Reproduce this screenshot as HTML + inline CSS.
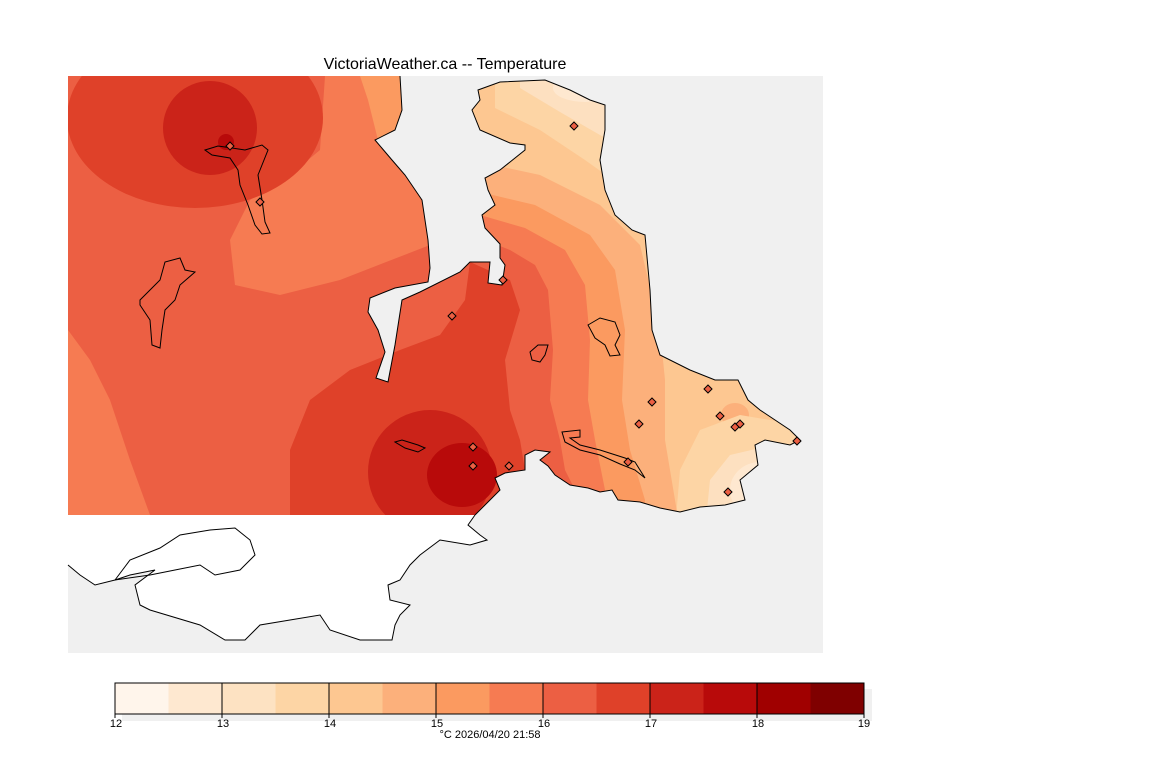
<!DOCTYPE html>
<html><head><meta charset="utf-8"><style>
body{margin:0;background:#fff;width:1152px;height:768px;overflow:hidden}
svg{display:block}
text{font-family:"Liberation Sans",sans-serif}
</style></head><body>
<svg width="1152" height="768" viewBox="0 0 1152 768" xmlns="http://www.w3.org/2000/svg">
<defs>
<clipPath id="land"><path d="M68,76 L400,76 L402,110 L395,130 L375,140 L392,160 L405,175 L422,200 L428,240 L430,268 L428,282 L395,288 L370,298 L368,312 L378,330 L385,352 L376,378 L388,382 L395,345 L402,300 L420,292 L460,272 L470,262 L490,262 L488,283 L502,285 L505,265 L500,258 L500,244 L485,228 L482,215 L495,205 L488,190 L485,178 L500,170 L525,150 L525,145 L510,143 L480,130 L472,110 L480,100 L478,90 L500,82 L545,80 L570,90 L590,100 L605,105 L605,130 L600,160 L605,190 L615,215 L632,230 L645,235 L650,290 L652,330 L660,355 L690,370 L715,380 L738,380 L748,400 L760,410 L790,430 L800,440 L790,445 L765,440 L755,445 L758,465 L740,480 L745,500 L725,505 L700,507 L680,512 L660,508 L640,502 L618,500 L612,490 L600,492 L588,488 L570,485 L555,475 L548,466 L540,460 L550,452 L535,450 L525,455 L525,470 L505,473 L495,478 L500,490 L485,505 L475,515 L68,515 Z"/></clipPath>
</defs>
<rect x="68" y="76" width="755" height="577" fill="#f0f0f0"/>
<path d="M68,515 L475,515 L468,525 L480,535 L487,540 L470,545 L440,540 L420,555 L410,565 L400,580 L388,585 L390,600 L410,605 L400,615 L395,625 L392,640 L385,640 L360,640 L330,630 L320,615 L290,620 L260,625 L245,640 L225,640 L200,625 L150,610 L140,605 L135,585 L155,570 L130,575 L115,580 L95,585 L80,575 L68,565 Z" fill="#fff"/>
<path d="M475,515 L468,525 L480,535 L487,540 L470,545 L440,540 L420,555 L410,565 L400,580 L388,585 L390,600 L410,605 L400,615 L395,625 L392,640 L385,640 L360,640 L330,630 L320,615 L290,620 L260,625 L245,640 L225,640 L200,625 L150,610 L140,605 L135,585 L155,570 L130,575 L115,580 L95,585 L80,575 L68,565" fill="none" stroke="#000" stroke-width="1"/>
<path d="M115,580 L130,560 L160,548 L180,535 L210,530 L235,528 L250,540 L255,555 L240,570 L215,575 L200,565 L175,570 L150,575 Z" fill="none" stroke="#000" stroke-width="1"/>
<g clip-path="url(#land)">
<rect x="68" y="76" width="760" height="440" fill="#ec5f43"/>
<path d="M230,76 L430,76 L430,245 L340,280 L280,295 L235,285 L230,240 L250,200 L290,175 L320,150 L325,76 Z" fill="#f67b52"/>
<ellipse cx="195" cy="118" rx="128" ry="90" fill="#df4129"/>
<circle cx="210" cy="128" r="47" fill="#cb2319"/>
<circle cx="226" cy="142" r="8" fill="#b80a0a"/>
<path d="M360,76 L410,76 L410,140 L378,140 L368,100 Z" fill="#fb9a60"/>
<path d="M68,330 L90,360 L110,400 L130,460 L150,515 L68,515 Z" fill="#f67b52"/>
<path d="M290,515 L290,450 L310,400 L350,370 L400,350 L440,335 L465,300 L470,262 L510,280 L520,310 L505,360 L510,410 L520,440 L525,470 L500,515 Z" fill="#df4129"/>
<circle cx="430" cy="472" r="62" fill="#cb2319"/>
<ellipse cx="462" cy="475" rx="35" ry="32" fill="#b80a0a"/>
<path d="M480,238 L510,250 L535,265 L548,290 L553,350 L550,400 L560,440 L565,470 L575,490 L575,530 L900,530 L900,60 L480,60 Z" fill="#f67b52"/>
<path d="M480,215 L525,228 L565,250 L585,285 L590,340 L588,400 L595,440 L605,490 L605,530 L900,530 L900,60 L480,60 Z" fill="#fb9a60"/>
<path d="M480,192 L535,205 L590,235 L615,270 L625,330 L622,400 L630,450 L645,500 L645,530 L900,530 L900,60 L480,60 Z" fill="#fcb07b"/>
<path d="M470,160 L540,175 L600,205 L640,245 L660,330 L665,380 L665,440 L680,530 L900,530 L900,60 L470,60 Z" fill="#fdc791"/>
<path d="M495,108 L540,130 L585,160 L620,185 L650,215 L720,230 L720,60 L495,60 Z" fill="#fdd5a5"/>
<path d="M520,88 L560,112 L600,135 L630,150 L650,60 L520,60 Z" fill="#fde0c0"/>
<ellipse cx="585" cy="88" rx="32" ry="14" fill="#fee8d0"/>
<ellipse cx="735" cy="415" rx="14" ry="12" fill="#fcb07b"/>
<path d="M675,530 L680,470 L700,430 L740,415 L800,425 L820,530 Z" fill="#fdd5a5"/>
<path d="M705,530 L710,480 L730,455 L760,448 L800,450 L800,530 Z" fill="#fde0c0"/>
<ellipse cx="760" cy="490" rx="30" ry="28" fill="#fee8d0"/>
</g>
<path d="M400,76 L402,110 L395,130 L375,140 L392,160 L405,175 L422,200 L428,240 L430,268 L428,282 L395,288 L370,298 L368,312 L378,330 L385,352 L376,378 L388,382 L395,345 L402,300 L420,292 L460,272 L470,262 L490,262 L488,283 L502,285 L505,265 L500,258 L500,244 L485,228 L482,215 L495,205 L488,190 L485,178 L500,170 L525,150 L525,145 L510,143 L480,130 L472,110 L480,100 L478,90 L500,82 L545,80 L570,90 L590,100 L605,105 L605,130 L600,160 L605,190 L615,215 L632,230 L645,235 L650,290 L652,330 L660,355 L690,370 L715,380 L738,380 L748,400 L760,410 L790,430 L800,440 L790,445 L765,440 L755,445 L758,465 L740,480 L745,500 L725,505 L700,507 L680,512 L660,508 L640,502 L618,500 L612,490 L600,492 L588,488 L570,485 L555,475 L548,466 L540,460 L550,452 L535,450 L525,455 L525,470 L505,473 L495,478 L500,490 L485,505 L475,515" fill="none" stroke="#000" stroke-width="1"/>
<g fill="none" stroke="#000" stroke-width="1">
<path d="M140,300 L150,290 L160,280 L165,262 L180,258 L185,270 L195,272 L180,285 L175,300 L165,310 L162,330 L160,348 L152,345 L150,320 L140,305 Z"/>
<path d="M205,150 L218,146 L232,148 L245,150 L262,145 L268,150 L258,175 L262,200 L265,222 L270,233 L262,234 L255,225 L248,205 L240,185 L238,170 L230,158 L212,155 Z"/>
<path d="M530,352 L538,345 L548,345 L545,355 L540,362 L532,360 Z"/>
<path d="M588,325 L600,318 L615,322 L620,335 L615,345 L620,355 L610,356 L605,345 L595,338 Z"/>
<path d="M395,442 L402,440 L418,445 L425,448 L418,452 L405,448 Z"/>
<path d="M562,432 L580,430 L580,437 L570,438 L580,445 L600,450 L625,458 L635,462 L645,478 L635,470 L620,464 L600,455 L580,450 L565,442 Z"/>
</g>
<g fill="#ec5f43" stroke="#000" stroke-width="1">
<path d="M230,142 l4,4 l-4,4 l-4,-4 z"/><path d="M260,198 l4,4 l-4,4 l-4,-4 z"/><path d="M574,122 l4,4 l-4,4 l-4,-4 z"/><path d="M503,276 l4,4 l-4,4 l-4,-4 z"/><path d="M452,312 l4,4 l-4,4 l-4,-4 z"/><path d="M473,443 l4,4 l-4,4 l-4,-4 z"/><path d="M473,462 l4,4 l-4,4 l-4,-4 z"/><path d="M509,462 l4,4 l-4,4 l-4,-4 z"/><path d="M652,398 l4,4 l-4,4 l-4,-4 z"/><path d="M639,420 l4,4 l-4,4 l-4,-4 z"/><path d="M708,385 l4,4 l-4,4 l-4,-4 z"/><path d="M720,412 l4,4 l-4,4 l-4,-4 z"/><path d="M735,423 l4,4 l-4,4 l-4,-4 z"/><path d="M740,420 l4,4 l-4,4 l-4,-4 z"/><path d="M628,458 l4,4 l-4,4 l-4,-4 z"/><path d="M728,488 l4,4 l-4,4 l-4,-4 z"/><path d="M797,437 l4,4 l-4,4 l-4,-4 z"/>
</g>
<text x="445" y="69" font-size="16" text-anchor="middle" fill="#000">VictoriaWeather.ca -- Temperature</text>
<rect x="122" y="689" width="750" height="32" fill="#f0f0f0"/>
<g stroke="none">
<rect x="115" y="683" width="53.5" height="31" fill="#fff5eb"/>
<rect x="168.5" y="683" width="53.5" height="31" fill="#fee8d0"/>
<rect x="222" y="683" width="53.5" height="31" fill="#fde2c2"/>
<rect x="275.5" y="683" width="53.5" height="31" fill="#fdd5a5"/>
<rect x="329" y="683" width="53.5" height="31" fill="#fdc791"/>
<rect x="382.5" y="683" width="53.5" height="31" fill="#fcb07b"/>
<rect x="436" y="683" width="53.5" height="31" fill="#fb9a60"/>
<rect x="489.5" y="683" width="53.5" height="31" fill="#f67b52"/>
<rect x="543" y="683" width="53.5" height="31" fill="#ec5f43"/>
<rect x="596.5" y="683" width="53.5" height="31" fill="#df4129"/>
<rect x="650" y="683" width="53.5" height="31" fill="#cb2319"/>
<rect x="703.5" y="683" width="53.5" height="31" fill="#b80a0a"/>
<rect x="757" y="683" width="53.5" height="31" fill="#a00000"/>
<rect x="810.5" y="683" width="53.5" height="31" fill="#7f0000"/>
</g>
<rect x="115" y="683" width="749" height="31" fill="none" stroke="#000" stroke-width="1"/>
<g stroke="#000" stroke-width="1">
<line x1="222" y1="683" x2="222" y2="718"/><line x1="329" y1="683" x2="329" y2="718"/><line x1="436" y1="683" x2="436" y2="718"/><line x1="543" y1="683" x2="543" y2="718"/><line x1="650" y1="683" x2="650" y2="718"/><line x1="757" y1="683" x2="757" y2="718"/><line x1="115" y1="714" x2="115" y2="718"/><line x1="864" y1="714" x2="864" y2="718"/>
</g>
<g font-size="11" text-anchor="middle" fill="#000">
<text x="116" y="727">12</text><text x="223" y="727">13</text><text x="330" y="727">14</text><text x="437" y="727">15</text><text x="544" y="727">16</text><text x="651" y="727">17</text><text x="758" y="727">18</text><text x="864" y="727">19</text>
<text x="490" y="738">°C  2026/04/20 21:58</text>
</g>
</svg>
</body></html>
